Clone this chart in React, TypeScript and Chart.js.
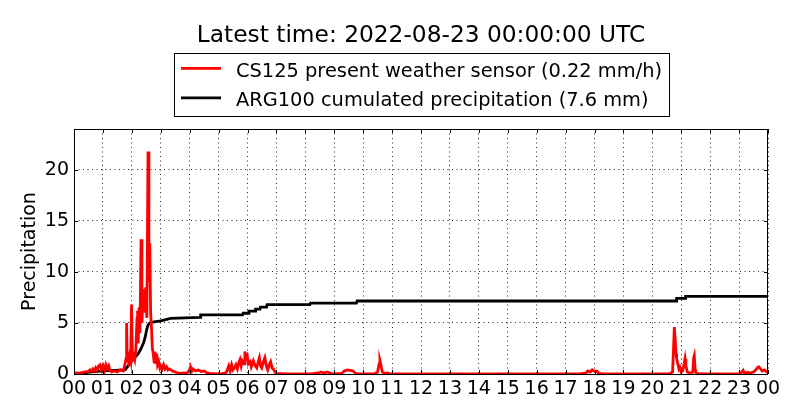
import React, { useEffect, useRef } from 'react';
import { Chart, registerables } from 'chart.js';

Chart.register(...registerables);

const FONT = '"DejaVu Sans", sans-serif';

const TITLE = 'Latest time: 2022-08-23 00:00:00 UTC';
const Y_LABEL = 'Precipitation';
const RED_LABEL = 'CS125 present weather sensor (0.22 mm/h)';
const BLACK_LABEL = 'ARG100 cumulated precipitation (7.6 mm)';

const HOURS = [0, 1, 2, 3, 4, 5, 6, 7, 8, 9, 10, 11, 12, 13, 14, 15, 16, 17, 18, 19, 20, 21, 22, 23, 24];
const HOUR_LABELS = ['00', '01', '02', '03', '04', '05', '06', '07', '08', '09', '10', '11', '12',
  '13', '14', '15', '16', '17', '18', '19', '20', '21', '22', '23', '00'];
const Y_TICKS = [0, 5, 10, 15, 20];

// CS125 rain rate (mm/h), time in hours since 00 UTC
const rainHours = [
  0.00, 0.10, 0.20, 0.30, 0.40, 0.50, 0.55, 0.60, 0.65, 0.70, 0.75, 0.80, 0.85, 0.90, 0.95,
  1.00, 1.05, 1.10, 1.15, 1.20, 1.25, 1.30, 1.40, 1.50, 1.60, 1.70, 1.75, 1.80, 1.82, 1.84,
  1.88, 1.92, 1.96, 1.99, 2.02, 2.06, 2.10, 2.14, 2.18, 2.20, 2.22, 2.25, 2.28, 2.32, 2.35,
  2.38, 2.42, 2.45, 2.48, 2.52, 2.56, 2.59, 2.62, 2.65, 2.68, 2.71, 2.74, 2.77, 2.80, 2.83,
  2.86, 2.89, 2.93, 2.97, 3.00, 3.05, 3.10, 3.15, 3.20, 3.25, 3.30, 3.40, 3.50, 3.60, 3.70,
  3.80, 3.90, 4.00, 4.03, 4.08, 4.12, 4.20, 4.30, 4.40, 4.50, 4.60, 4.70, 4.90, 5.10, 5.25,
  5.30, 5.35, 5.40, 5.45, 5.50, 5.55, 5.60, 5.65, 5.70, 5.74, 5.78, 5.82, 5.88, 5.91, 5.95,
  5.99, 6.03, 6.09, 6.13, 6.20, 6.25, 6.32, 6.37, 6.41, 6.45, 6.49, 6.55, 6.60, 6.65, 6.70,
  6.75, 6.80, 6.85, 6.89, 6.95, 7.00, 7.30, 7.60, 7.90, 8.20, 8.45, 8.55, 8.65, 8.75, 8.85,
  8.95, 9.25, 9.35, 9.45, 9.55, 9.65, 9.72, 9.80, 10.00, 10.40, 10.50, 10.55, 10.58, 10.62, 10.66,
  10.75, 10.86, 10.95, 11.50, 12.50, 13.50, 14.50, 15.50, 16.50, 17.50, 17.70, 17.77, 17.85, 17.92, 18.00,
  18.08, 18.15, 18.30, 19.00, 20.00, 20.60, 20.70, 20.74, 20.76, 20.79, 20.82, 20.84, 20.88, 20.92, 20.95,
  21.00, 21.05, 21.10, 21.13, 21.16, 21.21, 21.30, 21.40, 21.43, 21.45, 21.48, 21.52, 21.70, 22.50, 23.00,
  23.10, 23.14, 23.18, 23.30, 23.38, 23.50, 23.58, 23.63, 23.68, 23.74, 23.80, 23.88, 23.95, 24.00,
];
const rainRates = [
  0.05, 0.1, 0.05, 0.15, 0.2, 0.25, 0.4, 0.3, 0.5, 0.3, 0.6, 0.35, 0.8, 0.9, 0.4,
  0.8, 0.3, 0.9, 0.5, 0.8, 0.3, 0.2, 0.3, 0.2, 0.4, 0.3, 0.8, 1.5, 5.0, 1.6,
  1.2, 1.8, 1.3, 6.8, 1.5, 1.8, 1.4, 2.5, 5.5, 6.2, 3.0, 6.5, 4.0, 13.2, 5.0,
  7.5, 8.3, 6.0, 8.5, 5.5, 21.8, 9.0, 12.8, 6.0, 4.5, 2.5, 2.0, 1.2, 2.2, 1.0,
  2.0, 0.9, 1.2, 0.6, 0.8, 0.5, 0.9, 0.5, 0.7, 0.4, 0.5, 0.3, 0.2, 0.1, 0.05,
  0.1, 0.05, 0.4, 0.7, 0.3, 0.5, 0.3, 0.4, 0.25, 0.3, 0.1, 0.05, 0.02, 0.03, 0.1,
  0.4, 0.8, 0.3, 0.9, 0.4, 0.6, 0.9, 0.5, 1.1, 1.4, 0.8, 1.3, 1.0, 2.2, 1.6,
  1.8, 1.0, 1.2, 0.7, 1.3, 0.9, 0.6, 1.2, 1.6, 0.8, 0.6, 1.2, 1.6, 0.8, 0.4,
  0.9, 1.2, 0.6, 0.5, 0.2, 0.05, 0.0, 0.02, 0.0, 0.0, 0.1, 0.2, 0.1, 0.2, 0.1,
  0.0, 0.05, 0.3, 0.4, 0.35, 0.3, 0.1, 0.0, 0.0, 0.02, 0.2, 1.0, 1.3, 0.8, 0.2,
  0.05, 0.1, 0.0, 0.0, 0.0, 0.0, 0.0, 0.0, 0.0, 0.0, 0.1, 0.3, 0.2, 0.4, 0.25,
  0.3, 0.05, 0.0, 0.0, 0.0, 0.0, 0.2, 3.0, 4.6, 3.5, 2.0, 1.5, 1.0, 0.5, 0.65,
  0.2, 0.3, 1.0, 1.5, 0.8, 0.2, 0.1, 0.2, 1.6, 1.8, 0.5, 0.05, 0.0, 0.0, 0.0,
  0.2, 0.35, 0.1, 0.15, 0.1, 0.2, 0.4, 0.6, 0.7, 0.5, 0.3, 0.4, 0.2, 0.2,
];

// ARG100 cumulated precipitation (mm)
const cumHours = [
  0.00, 0.30, 0.60, 1.00, 1.40, 1.76, 1.85, 2.00, 2.10, 2.22, 2.30, 2.40, 2.47, 2.51, 2.56,
  2.62, 2.77, 3.00, 3.34, 4.36, 4.38, 5.83, 5.85, 6.03, 6.05, 6.26, 6.28, 6.43, 6.45, 6.66,
  6.68, 8.16, 8.18, 9.77, 9.79, 20.82, 20.84, 21.13, 21.15, 24.00,
];
const cumTotals = [
  0.0, 0.1, 0.2, 0.3, 0.35, 0.4, 0.7, 1.3, 1.6, 2.0, 2.4, 3.0, 3.7, 4.3, 4.8,
  5.0, 5.1, 5.2, 5.45, 5.55, 5.8, 5.8, 5.95, 5.95, 6.15, 6.15, 6.35, 6.35, 6.55, 6.55,
  6.8, 6.8, 6.95, 6.95, 7.15, 7.15, 7.4, 7.4, 7.6, 7.6,
];

const decorations = {
  id: 'decorations',
  afterDatasetsDraw(chart: any) {
    const { ctx, chartArea: a, scales } = chart;
    ctx.save();
    ctx.strokeStyle = '#000';
    ctx.lineWidth = 1;
    ctx.beginPath();
    HOURS.forEach(h => {
      const x = Math.round(scales.x.getPixelForValue(h)) + 0.5;
      ctx.moveTo(x, a.bottom); ctx.lineTo(x, a.bottom - 4);
      ctx.moveTo(x, a.top); ctx.lineTo(x, a.top + 4);
    });
    Y_TICKS.forEach(v => {
      const y = Math.round(scales.y.getPixelForValue(v)) + 0.5;
      ctx.moveTo(a.left, y); ctx.lineTo(a.left + 4, y);
      ctx.moveTo(a.right, y); ctx.lineTo(a.right - 4, y);
    });
    ctx.stroke();
    ctx.strokeRect(a.left + 0.5, a.top + 0.5, a.right - a.left - 1, a.bottom - a.top);
    ctx.restore();
  },
  afterDraw(chart: any) {
    const { ctx, chartArea: a } = chart;
    const cx = (a.left + a.right) / 2;
    ctx.save();
    ctx.fillStyle = '#000';
    ctx.textAlign = 'center';
    ctx.textBaseline = 'alphabetic';
    ctx.font = `23.3px ${FONT}`;
    ctx.fillText(TITLE, cx, 42);

    ctx.font = `19.4px ${FONT}`;
    ctx.textAlign = 'left';
    const items = chart.data.datasets.map((d: any) => ({ label: d.label, color: d.borderColor }));
    const tw = Math.max(...items.map((i: any) => ctx.measureText(i.label).width));
    const w = Math.round(62 + tw + 7);
    const left = Math.round(cx - w / 2);
    ctx.fillStyle = '#fff';
    ctx.fillRect(left, 53, w, 64);
    ctx.strokeStyle = '#000';
    ctx.lineWidth = 1;
    ctx.strokeRect(left + 0.5, 53.5, w, 63);
    items.forEach((it: any, i: number) => {
      const ly = 68.3 + i * 29.5;
      ctx.strokeStyle = it.color;
      ctx.lineWidth = 2.8;
      ctx.beginPath();
      ctx.moveTo(left + 7, ly);
      ctx.lineTo(left + 47, ly);
      ctx.stroke();
      ctx.fillStyle = '#000';
      ctx.fillText(it.label, left + 62, 76.5 + i * 29.2);
    });
    ctx.restore();
  },
};

export default function App() {
  const ref = useRef<HTMLCanvasElement>(null);

  useEffect(() => {
    if (!ref.current) return;
    const grid = { color: 'rgba(0,0,0,0.85)', lineWidth: 1, drawTicks: false };
    const border = { display: false, dash: [1, 3.5] };
    const chart = new Chart(ref.current, {
      type: 'line',
      data: {
        datasets: [
          {
            label: RED_LABEL,
            data: rainHours.map((h, i) => ({ x: h, y: rainRates[i] })),
            borderColor: '#ff0000',
            borderWidth: 2.8,
            pointRadius: 0,
            tension: 0,
            clip: 0,
          },
          {
            label: BLACK_LABEL,
            data: cumHours.map((h, i) => ({ x: h, y: cumTotals[i] })),
            borderColor: '#000000',
            borderWidth: 2.8,
            pointRadius: 0,
            tension: 0,
            clip: 0,
          },
        ],
      },
      options: {
        responsive: false,
        animation: false,
        devicePixelRatio: 1,
        layout: { padding: { top: 129, right: 32, left: 0, bottom: 0 } },
        plugins: { legend: { display: false }, title: { display: false }, tooltip: { enabled: false } },
        scales: {
          x: {
            type: 'linear',
            min: 0,
            max: 24,
            afterBuildTicks: (s: any) => { s.ticks = HOURS.map(v => ({ value: v })); },
            afterFit: (s: any) => { s.height = 46; },
            grid,
            border,
            ticks: {
              color: '#000',
              font: { family: FONT, size: 19 },
              padding: 4,
              maxRotation: 0,
              autoSkip: false,
              callback: (v: any) => HOUR_LABELS[Number(v)],
            },
          },
          y: {
            min: 0,
            max: 24,
            afterBuildTicks: (s: any) => { s.ticks = Y_TICKS.map(v => ({ value: v })); },
            afterFit: (s: any) => { s.width = 74; },
            grid,
            border,
            title: { display: true, text: Y_LABEL, color: '#000', font: { family: FONT, size: 19 }, padding: { top: 19, bottom: 0 } },
            ticks: { color: '#000', font: { family: FONT, size: 19 }, padding: 5 },
          },
        },
      },
      plugins: [decorations],
    });
    return () => chart.destroy();
  }, []);

  return (
    <div style={{ position: 'fixed', left: 0, top: 0, width: 800, height: 420, background: '#fff' }}>
      <canvas ref={ref} width={800} height={420} />
    </div>
  );
}
